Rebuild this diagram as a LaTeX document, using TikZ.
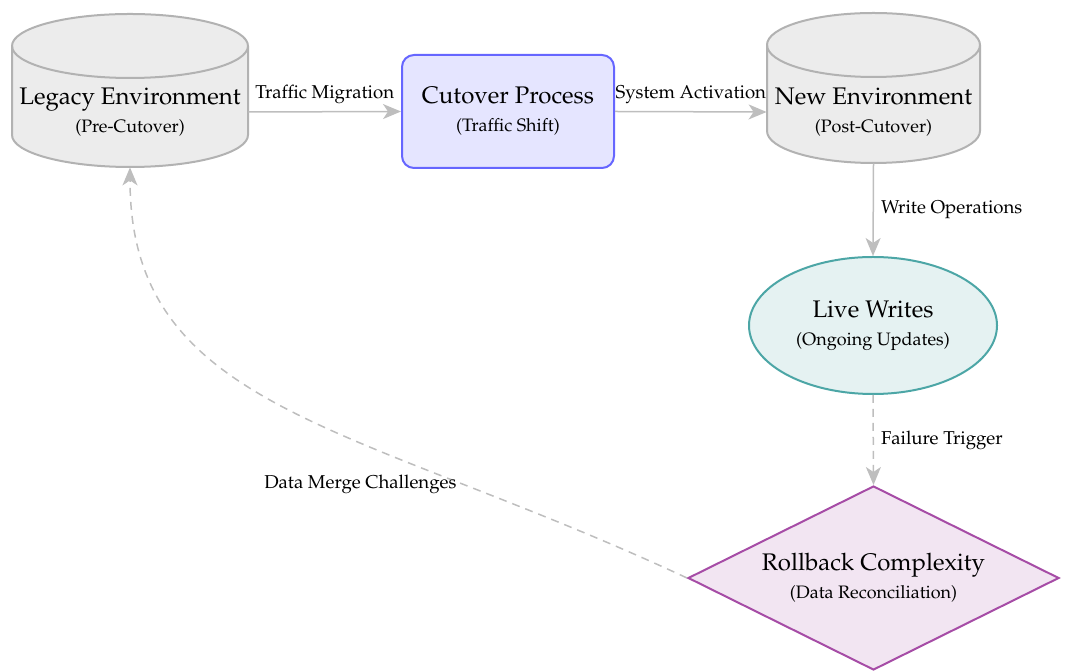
\documentclass[tikz,border=0pt]{standalone}
\usepackage[T1]{fontenc}
\usepackage{mathpazo}
\usetikzlibrary{shapes.geometric, arrows.meta}

\definecolor{edgegray}{RGB}{190,190,190}
\definecolor{drumfill}{RGB}{236,236,236}
\definecolor{drumline}{RGB}{178,178,178}

\begin{document}
\begin{tikzpicture}[x=0.5pt, y=0.5pt,
  box/.style={font=\large, align=center, inner sep=0pt},
  store/.style={box, rectangle},
  drum/.style={fill=drumfill, draw=drumline, line width=1pt},
  rim/.style={draw=drumline, line width=1pt},
  process/.style={box, rectangle, rounded corners=6pt, draw=blue!60, fill=blue!10, line width=1pt},
  activity/.style={box, ellipse, draw=teal!70, fill=teal!10, line width=1pt},
  decision/.style={box, diamond, aspect=2, draw=violet!70, fill=violet!10, line width=1pt},
  flow/.style={draw=edgegray, line width=0.75pt, -{Stealth[length=9pt, width=7.5pt, inset=2.5pt]}},
  weak/.style={flow, dash pattern=on 4pt off 3pt},
  lbl/.style={font=\fontsize{9.3pt}{11pt}\selectfont, text=black, inner sep=3.5pt}
]
\useasboundingbox (0,0) rectangle (1065,-672);

% database drums (body, then front rim of the lid)
\path[drum] (12,-46) -- (12,-135) arc[start angle=180, end angle=360, x radius=118, y radius=32]
  -- (248,-46) arc[start angle=0, end angle=180, x radius=118, y radius=32] -- cycle;
\path[rim] (12,-46) arc[start angle=180, end angle=360, x radius=118, y radius=32];

\path[drum] (767,-45) -- (767,-131) arc[start angle=180, end angle=360, x radius=106.5, y radius=32]
  -- (980,-45) arc[start angle=0, end angle=180, x radius=106.5, y radius=32] -- cycle;
\path[rim] (767,-45) arc[start angle=180, end angle=360, x radius=106.5, y radius=32];

% nodes
\node[store, minimum width=118pt, minimum height=55pt] (leg) at (130,-112)
  {Legacy Environment\\{\small (Pre-Cutover)}};
\node[process, minimum width=106pt, minimum height=56.5pt] (cut) at (508,-111.5)
  {Cutover Process\\{\small (Traffic Shift)}};
\node[store, minimum width=106.5pt, minimum height=51pt] (new) at (873.5,-112)
  {New Environment\\{\small (Post-Cutover)}};
\node[activity, minimum width=124pt, minimum height=68.5pt] (live) at (873,-325.5)
  {Live Writes\\{\small (Ongoing Updates)}};
\node[decision, minimum width=185.5pt, minimum height=92pt] (rb) at (873.5,-578)
  {Rollback Complexity\\{\small (Data Reconciliation)}};

% connectors
\draw[flow] (leg.east) -- node[lbl, above] {Traffic Migration} (cut.west);
\draw[flow] (cut.east) -- node[lbl, above] {System Activation} (new.west);
\draw[flow] (new.south) -- node[lbl, right] {Write Operations} (live.north);
\draw[weak] (live.south) -- node[lbl, right] {Failure Trigger} (rb.north);
\draw[weak] (rb.west) to[out=155, in=-90, out looseness=1.35, in looseness=0.9]
  node[lbl, pos=0.245, anchor=east] {Data Merge Challenges} (leg.south);
\end{tikzpicture}
\end{document}
